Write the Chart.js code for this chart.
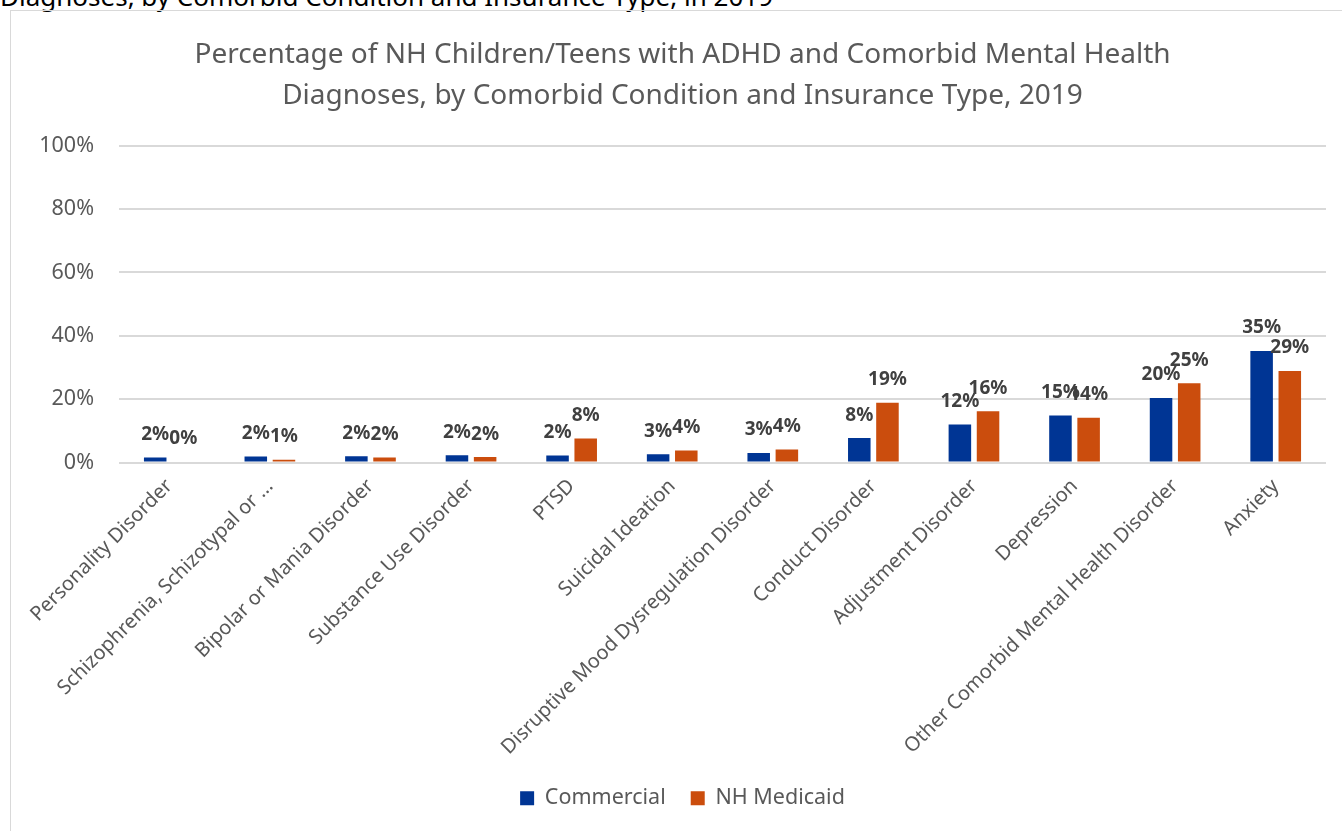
<!DOCTYPE html>
<html>
<head>
<meta charset="utf-8">
<script src="https://cdn.jsdelivr.net/npm/chart.js@4"></script>
<style>
    html, body { margin: 0; padding: 0; background: #fff; overflow: hidden; }
    body { width: 1342px; height: 831px; position: relative; font-family: "Noto Sans", sans-serif; }
    #cut-title { position: absolute; left: 0; top: -22px; font-size: 26px; color: #000; white-space: nowrap; }
    #box { position: absolute; left: 10px; top: 10px; width: 1340px; height: 830px; border: 1px solid #d9d9d9; box-sizing: border-box; }
    #wrap { position: absolute; left: 1px; top: 1px; width: 1331px; height: 820px; }
</style>
</head>
<body>
<div id="cut-title">Diagnoses, by Comorbid Condition and Insurance Type, in 2019</div>
<div id="box">
    <div id="wrap"><canvas id="adhdChart"></canvas></div>
</div>
<script>
// Data (percent)
const categories = [
    'Personality Disorder',
    'Schizophrenia, Schizotypal or \u2026',
    'Bipolar or Mania Disorder',
    'Substance Use Disorder',
    'PTSD',
    'Suicidal Ideation',
    'Disruptive Mood Dysregulation Disorder',
    'Conduct Disorder',
    'Adjustment Disorder',
    'Depression',
    'Other Comorbid Mental Health Disorder',
    'Anxiety'
];
const commercial = [1.6, 1.9, 2.0, 2.3, 2.2, 2.6, 3.0, 7.7, 12.0, 14.8, 20.4, 35.2];
const medicaid = [0.3, 0.9, 1.6, 1.7, 7.6, 3.8, 4.1, 18.9, 16.2, 14.1, 25.0, 28.9];
const yTicks = [0, 20, 40, 60, 80, 100];

const FONT = '"Noto Sans", sans-serif';

// draws the value labels above each bar
const barLabels = {
    id: 'barLabels',
    afterDatasetsDraw(chart) {
        const ctx = chart.ctx;
        ctx.save();
        ctx.font = 'bold 19px ' + FONT;
        ctx.fillStyle = '#404040';
        ctx.textAlign = 'center';
        ctx.textBaseline = 'middle';
        chart.data.datasets.forEach((ds, i) => {
            chart.getDatasetMeta(i).data.forEach((bar, j) => {
                ctx.fillText(Math.round(ds.data[j]) + '%', bar.x, bar.y - 23);
            });
        });
        ctx.restore();
    }
};

document.addEventListener('DOMContentLoaded', function() {
    const ctx = document.getElementById('adhdChart').getContext('2d');
    new Chart(ctx, {
        type: 'bar',
        data: {
            labels: categories,
            datasets: [{
                label: 'Commercial',
                data: commercial,
                backgroundColor: '#003594'
            }, {
                label: 'NH Medicaid',
                data: medicaid,
                backgroundColor: '#CB4D0D'
            }]
        },
        options: {
            responsive: true,
            maintainAspectRatio: false,
            animation: false,
            categoryPercentage: 0.56,
            barPercentage: 0.8,
            layout: { padding: { left: 27, right: 17, top: 0, bottom: 13 } },
            plugins: {
                title: {
                    display: true,
                    text: ['Percentage of NH Children/Teens with ADHD and Comorbid Mental Health',
                           'Diagnoses, by Comorbid Condition and Insurance Type, 2019'],
                    color: '#595959',
                    font: { family: FONT, size: 28, weight: 'normal', lineHeight: 1.46 },
                    padding: { top: 23, bottom: 29 }
                },
                legend: {
                    position: 'bottom',
                    labels: {
                        boxWidth: 14,
                        boxHeight: 14,
                        color: '#595959',
                        font: { family: FONT, size: 21.5 },
                        padding: 25
                    }
                },
                tooltip: { enabled: false }
            },
            scales: {
                x: {
                    grid: { display: false },
                    border: { display: false },
                    ticks: {
                        color: '#595959',
                        font: { family: FONT, size: 20 },
                        minRotation: 45,
                        maxRotation: 45,
                        autoSkip: false,
                        padding: 4
                    },
                    afterFit(scale) { scale.height = 300; }
                },
                y: {
                    min: 0,
                    max: 100,
                    afterBuildTicks(scale) { scale.ticks = yTicks.map(v => ({ value: v })); },
                    grid: { color: '#d9d9d9', lineWidth: 2, drawTicks: false },
                    border: { display: false },
                    ticks: {
                        color: '#595959',
                        font: { family: FONT, size: 21.5 },
                        padding: 25,
                        callback: v => v + '%'
                    },
                    afterFit(scale) { scale.width = 80; }
                }
            }
        },
        plugins: [barLabels]
    });
});
</script>
</body>
</html>
